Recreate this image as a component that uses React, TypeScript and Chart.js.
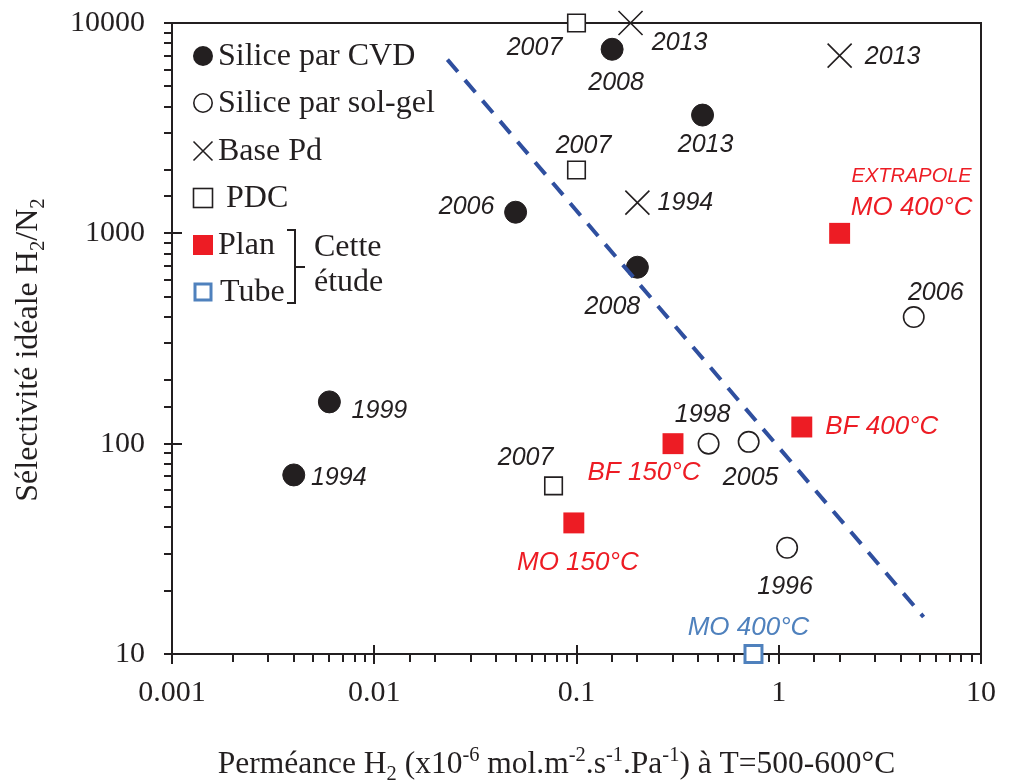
import React, { useEffect, useRef } from 'react';
import { Chart, registerables } from 'chart.js';

Chart.register(...registerables);

// ---------- DATA ----------
const cvdX = [0.004, 0.006, 0.05, 0.2, 0.15, 0.42];
const cvdY = [71, 158, 1260, 690, 7500, 3650];
const cvdYears = ['1994', '1999', '2006', '2008', '2008', '2013'];

const solgelX = [4.65, 0.45, 0.71, 1.1];
const solgelY = [400, 100, 102, 32];
const solgelYears = ['2006', '1998', '2005', '1996'];

const pdX = [0.185, 2.0, 0.2];
const pdY = [10000, 7000, 1400];
const pdYears = ['2013', '2013', '1994'];

const pdcX = [0.1, 0.1, 0.077];
const pdcY = [10000, 2000, 63];
const pdcYears = ['2007', '2007', '2007'];

const planX = [0.097, 0.3, 1.3, 2.0];
const planY = [42, 100, 120, 1000];
const planLabels = ['MO 150°C', 'BF 150°C', 'BF 400°C', 'MO 400°C'];

const tubeX = [0.75];
const tubeY = [10];
const tubeLabels = ['MO 400°C'];

const trendX = [0.023, 5.2];
const trendY = [6700, 15];

const xMin = 0.001;
const xMax = 10;
const yMin = 10;
const yMax = 10000;

const legendNames = ['Silice par CVD', 'Silice par sol-gel', 'Base Pd', 'PDC', 'Plan', 'Tube'];
const legendNote = ['Cette', 'étude'];

// ---------- STYLE ----------
const INK = '#231f20';
const RED = '#ed1c24';
const BLUE = '#4f81bd';
const LINEBLUE = '#2f4f9f';
const SERIF = "'Liberation Serif', 'Times New Roman', serif";
const SANS = "'Liberation Sans', Arial, sans-serif";

const toPts = (xs: number[], ys: number[]) => xs.map((x, i) => ({ x, y: ys[i] }));

// label annotations: dataset index, point index, text, offsets (px), color, size
type Ann = { ds: number; i: number; text: string; dx: number; dy: number; color: string; size: number };
const YS = 25;
const RS = 26;
const annotations: Ann[] = [
  // CVD (ds 1)
  { ds: 1, i: 0, text: cvdYears[0], dx: 45, dy: 3, color: INK, size: YS },
  { ds: 1, i: 1, text: cvdYears[1], dx: 50, dy: 9, color: INK, size: YS },
  { ds: 1, i: 2, text: cvdYears[2], dx: -49, dy: -5, color: INK, size: YS },
  { ds: 1, i: 3, text: cvdYears[3], dx: -25, dy: 40, color: INK, size: YS },
  { ds: 1, i: 4, text: cvdYears[4], dx: 4, dy: 34, color: INK, size: YS },
  { ds: 1, i: 5, text: cvdYears[5], dx: 3, dy: 30, color: INK, size: YS },
  // sol-gel (ds 2)
  { ds: 2, i: 0, text: solgelYears[0], dx: 22, dy: -24, color: INK, size: YS },
  { ds: 2, i: 1, text: solgelYears[1], dx: -6, dy: -29, color: INK, size: YS },
  { ds: 2, i: 2, text: solgelYears[2], dx: 2, dy: 36, color: INK, size: YS },
  { ds: 2, i: 3, text: solgelYears[3], dx: -2, dy: 39, color: INK, size: YS },
  // Pd (ds 3)
  { ds: 3, i: 0, text: pdYears[0], dx: 49, dy: 20, color: INK, size: YS },
  { ds: 3, i: 1, text: pdYears[1], dx: 53, dy: 1, color: INK, size: YS },
  { ds: 3, i: 2, text: pdYears[2], dx: 48, dy: 0, color: INK, size: YS },
  // PDC (ds 4)
  { ds: 4, i: 0, text: pdcYears[0], dx: -42, dy: 25, color: INK, size: YS },
  { ds: 4, i: 1, text: pdcYears[1], dx: 7, dy: -24, color: INK, size: YS },
  { ds: 4, i: 2, text: pdcYears[2], dx: -28, dy: -28, color: INK, size: YS },
  // Plan (ds 5)
  { ds: 5, i: 0, text: planLabels[0], dx: 4, dy: 40, color: RED, size: RS },
  { ds: 5, i: 1, text: planLabels[1], dx: -29, dy: 29, color: RED, size: RS },
  { ds: 5, i: 2, text: planLabels[2], dx: 80, dy: 0, color: RED, size: RS },
  { ds: 5, i: 3, text: 'EXTRAPOLE', dx: 72, dy: -57, color: RED, size: 20 },
  { ds: 5, i: 3, text: planLabels[3], dx: 72, dy: -26, color: RED, size: RS },
  // Tube (ds 6)
  { ds: 6, i: 0, text: tubeLabels[0], dx: -5, dy: -26, color: BLUE, size: RS },
];

type Seg = { t: string; k?: 'sub' | 'sup' };
const xTitle: Seg[] = [
  { t: 'Perméance H' }, { t: '2', k: 'sub' }, { t: ' (x10' }, { t: '-6', k: 'sup' },
  { t: ' mol.m' }, { t: '-2', k: 'sup' }, { t: '.s' }, { t: '-1', k: 'sup' },
  { t: '.Pa' }, { t: '-1', k: 'sup' }, { t: ') à T=500-600°C' },
];
const yTitle: Seg[] = [
  { t: 'Sélectivité idéale H' }, { t: '2', k: 'sub' }, { t: '/N' }, { t: '2', k: 'sub' },
];

function segFont(s: Seg, size: number) {
  const fs = s.k ? size * 0.65 : size;
  return `${fs}px ${SERIF}`;
}
function richWidth(ctx: CanvasRenderingContext2D, segs: Seg[], size: number) {
  let w = 0;
  for (const s of segs) {
    ctx.font = segFont(s, size);
    w += ctx.measureText(s.t).width;
  }
  return w;
}
function drawRich(ctx: CanvasRenderingContext2D, segs: Seg[], cx: number, baseY: number, size: number) {
  const w = richWidth(ctx, segs, size);
  let x = cx - w / 2;
  ctx.textAlign = 'left';
  ctx.textBaseline = 'alphabetic';
  for (const s of segs) {
    ctx.font = segFont(s, size);
    const off = s.k === 'sub' ? size * 0.22 : s.k === 'sup' ? -size * 0.38 : 0;
    ctx.fillText(s.t, x, baseY + off);
    x += ctx.measureText(s.t).width;
  }
}

const isPow10 = (v: number) => {
  const l = Math.log10(v);
  return Math.abs(l - Math.round(l)) < 1e-6;
};
const fmtPow10 = (v: number) => {
  const e = Math.round(Math.log10(v));
  return e < 0 ? Math.pow(10, e).toFixed(-e) : String(Math.pow(10, e));
};

const framePlugin = {
  id: 'frame',
  beforeDatasetsDraw(chart: any) {
    const ctx: CanvasRenderingContext2D = chart.ctx;
    const { left, right, top, bottom } = chart.chartArea;
    ctx.save();
    ctx.strokeStyle = INK;
    ctx.lineWidth = 2;
    ctx.strokeRect(left, top, right - left, bottom - top);
    const xs = chart.scales.x;
    const ys = chart.scales.y;
    ctx.lineWidth = 2;
    ctx.beginPath();
    for (const t of xs.ticks) {
      const px = Math.round(xs.getPixelForValue(t.value));
      if (isPow10(t.value)) {
        ctx.moveTo(px, bottom - 9);
        ctx.lineTo(px, bottom + 10);
      } else {
        ctx.moveTo(px, bottom);
        ctx.lineTo(px, bottom + 8);
      }
    }
    for (const t of ys.ticks) {
      const py = Math.round(ys.getPixelForValue(t.value));
      if (isPow10(t.value)) {
        ctx.moveTo(left - 8, py);
        ctx.lineTo(left + 10, py);
      } else {
        ctx.moveTo(left - 8, py);
        ctx.lineTo(left, py);
      }
    }
    ctx.stroke();
    ctx.restore();
  },
};

const overlayPlugin = {
  id: 'overlay',
  afterDraw(chart: any) {
    const ctx: CanvasRenderingContext2D = chart.ctx;
    ctx.save();
    // point annotations
    for (const a of annotations) {
      const el = chart.getDatasetMeta(a.ds).data[a.i];
      if (!el) continue;
      ctx.font = `italic ${a.size}px ${SANS}`;
      ctx.fillStyle = a.color;
      ctx.textAlign = 'center';
      ctx.textBaseline = 'middle';
      ctx.fillText(a.text, el.x + a.dx, el.y + a.dy);
    }

    // axis titles
    ctx.fillStyle = INK;
    const { left, right } = chart.chartArea;
    drawRich(ctx, xTitle, (left + right) / 2 - 20, 773, 31.5);
    ctx.save();
    ctx.translate(37, 350);
    ctx.rotate(-Math.PI / 2);
    drawRich(ctx, yTitle, 0, 0, 32);
    ctx.restore();

    // legend
    const mx = 203;
    const rows = [56, 103, 151, 198, 245, 292];
    ctx.lineWidth = 1.6;
    ctx.strokeStyle = INK;
    // filled circle
    ctx.fillStyle = INK;
    ctx.beginPath(); ctx.arc(mx, rows[0], 10, 0, Math.PI * 2); ctx.fill();
    // open circle
    ctx.beginPath(); ctx.arc(mx, rows[1], 9.2, 0, Math.PI * 2); ctx.stroke();
    // cross
    ctx.beginPath();
    ctx.moveTo(mx - 9.5, rows[2] - 9.5); ctx.lineTo(mx + 9.5, rows[2] + 9.5);
    ctx.moveTo(mx + 9.5, rows[2] - 9.5); ctx.lineTo(mx - 9.5, rows[2] + 9.5);
    ctx.stroke();
    // open square
    ctx.strokeRect(mx - 9.5, rows[3] - 9.5, 19, 19);
    // red square
    ctx.fillStyle = RED;
    ctx.fillRect(mx - 10, rows[4] - 10, 20, 20);
    // blue square
    ctx.strokeStyle = BLUE;
    ctx.lineWidth = 3;
    ctx.strokeRect(mx - 8, rows[5] - 8, 16, 16);

    ctx.fillStyle = INK;
    ctx.font = `32px ${SERIF}`;
    ctx.textAlign = 'left';
    ctx.textBaseline = 'middle';
    const tx = [218, 218, 218, 226, 218, 220];
    legendNames.forEach((n, i) => ctx.fillText(n, tx[i], rows[i] + 1));

    // bracket
    ctx.strokeStyle = INK;
    ctx.lineWidth = 2;
    ctx.beginPath();
    ctx.moveTo(287, 230); ctx.lineTo(295, 230); ctx.lineTo(295, 303); ctx.lineTo(287, 303);
    ctx.moveTo(295, 267); ctx.lineTo(305, 267);
    ctx.stroke();
    ctx.fillText(legendNote[0], 314, 248);
    ctx.fillText(legendNote[1], 314, 283);

    ctx.restore();
  },
};

const zeroPad = (s: any) => {
  s.paddingTop = 0;
  s.paddingBottom = 0;
  s.paddingLeft = 0;
  s.paddingRight = 0;
};

export default function App() {
  const ref = useRef<HTMLCanvasElement | null>(null);
  useEffect(() => {
    document.body.style.margin = '0';
    const canvas = ref.current;
    if (!canvas) return;
    const chart = new Chart(canvas, {
      type: 'scatter',
      data: {
        datasets: [
          {
            label: 'trend',
            data: toPts(trendX, trendY),
            showLine: true,
            borderColor: LINEBLUE,
            borderWidth: 4,
            borderDash: [16, 11],
            borderCapStyle: 'butt',
            pointRadius: 0,
            fill: false,
          } as any,
          {
            label: legendNames[0],
            data: toPts(cvdX, cvdY),
            pointStyle: 'circle',
            pointRadius: 11,
            backgroundColor: INK,
            borderColor: INK,
            borderWidth: 1,
          },
          {
            label: legendNames[1],
            data: toPts(solgelX, solgelY),
            pointStyle: 'circle',
            pointRadius: 10.2,
            backgroundColor: '#ffffff',
            borderColor: INK,
            borderWidth: 1.6,
          },
          {
            label: legendNames[2],
            data: toPts(pdX, pdY),
            pointStyle: 'crossRot',
            pointRadius: 17,
            backgroundColor: INK,
            borderColor: INK,
            borderWidth: 1.6,
          },
          {
            label: legendNames[3],
            data: toPts(pdcX, pdcY),
            pointStyle: 'rect',
            pointRadius: 12.4,
            backgroundColor: '#ffffff',
            borderColor: INK,
            borderWidth: 1.6,
          },
          {
            label: legendNames[4],
            data: toPts(planX, planY),
            pointStyle: 'rect',
            pointRadius: 14.8,
            backgroundColor: RED,
            borderColor: RED,
            borderWidth: 0,
          },
          {
            label: legendNames[5],
            data: toPts(tubeX, tubeY),
            pointStyle: 'rect',
            pointRadius: 12,
            backgroundColor: '#ffffff',
            borderColor: BLUE,
            borderWidth: 3,
          },
        ].map((d: any) => ({ ...d, clip: false, pointHoverRadius: d.pointRadius })),
      },
      options: {
        responsive: false,
        animation: false,
        events: [],
        layout: { padding: { top: 23, right: 31, left: 0, bottom: 0 } },
        plugins: {
          legend: { display: false },
          tooltip: { enabled: false },
          title: { display: false },
        },
        scales: {
          x: {
            type: 'logarithmic',
            min: xMin,
            max: xMax,
            grid: { display: false, drawTicks: false },
            border: { display: false },
            ticks: {
              autoSkip: false,
              maxRotation: 0,
              minRotation: 0,
              padding: 21,
              color: INK,
              font: { family: SERIF, size: 30 },
              callback: (v: any) => (isPow10(Number(v)) ? fmtPow10(Number(v)) : ''),
            },
            afterFit: (s: any) => { s.height = 129; zeroPad(s); },
          },
          y: {
            type: 'logarithmic',
            min: yMin,
            max: yMax,
            grid: { display: false, drawTicks: false },
            border: { display: false },
            ticks: {
              autoSkip: false,
              padding: 27,
              color: INK,
              font: { family: SERIF, size: 30 },
              callback: (v: any) => (isPow10(Number(v)) ? fmtPow10(Number(v)) : ''),
            },
            afterFit: (s: any) => { s.width = 172; zeroPad(s); },
          },
        },
      } as any,
      plugins: [framePlugin, overlayPlugin],
    });
    return () => chart.destroy();
  }, []);

  return (
    <div style={{ position: 'fixed', left: 0, top: 0, width: 1012, height: 783, background: '#fff' }}>
      <canvas ref={ref} width={1012} height={783} style={{ width: 1012, height: 783, display: 'block' }} />
    </div>
  );
}
